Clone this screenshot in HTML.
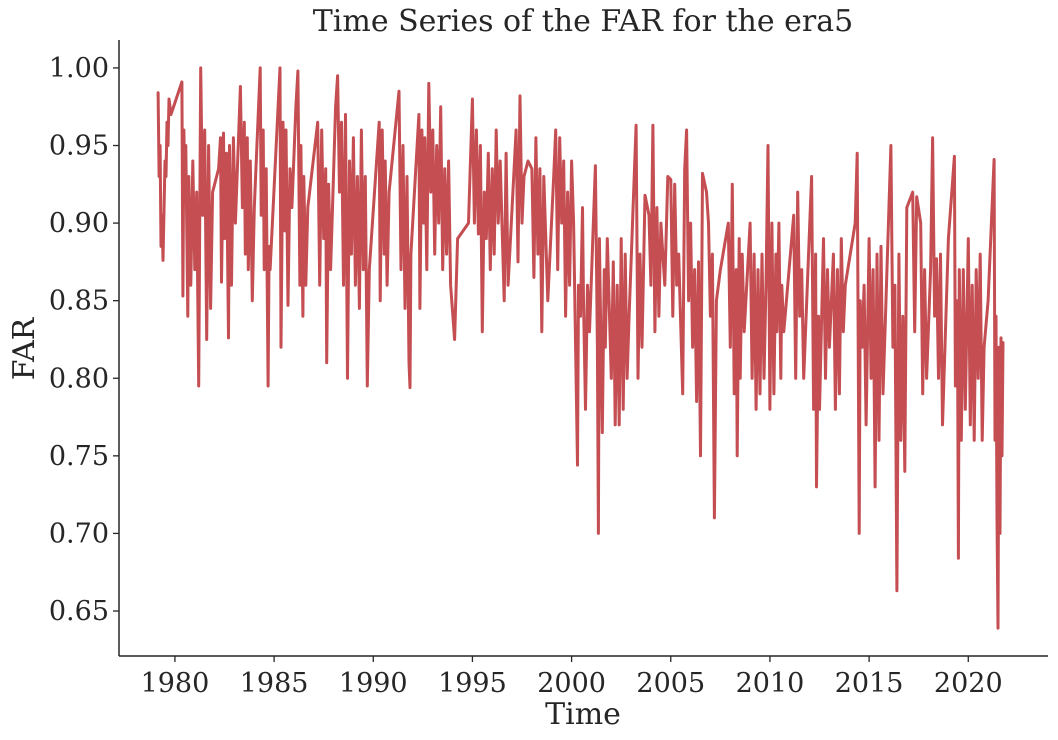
<!DOCTYPE html>
<html><head><meta charset="utf-8"><style>
body{margin:0;background:#fff;}
svg{display:block;font-family:"DejaVu Serif","Liberation Serif",serif;}
</style></head><body>
<svg id="chart" width="1058" height="740" xmlns="http://www.w3.org/2000/svg">
<text x="583" y="31" font-size="30" text-anchor="middle" fill="#262626">Time Series of the FAR for the era5</text>
<g id="plot"></g>
<g id="xaxis"></g>
<g id="yaxis"></g>
<text x="583" y="724" font-size="30" text-anchor="middle" fill="#262626">Time</text>
<text transform="translate(34,349) rotate(-90)" font-size="30" text-anchor="middle" fill="#262626">FAR</text>
</svg>
<script>
const xTicks=[1980,1985,1990,1995,2000,2005,2010,2015,2020];
const yTicks=[0.65,0.70,0.75,0.80,0.85,0.90,0.95,1.00];
const years=[1979.15,1979.2,1979.25,1979.3,1979.35,1979.4,1979.5,1979.55,1979.6,1979.65,1979.7,1979.8,
1980.35,1980.4,1980.45,1980.5,1980.55,1980.65,1980.7,1980.8,1980.9,1981.0,1981.1,1981.2,1981.3,1981.4,1981.5,1981.6,1981.7,1981.8,1981.9,
1982.2,1982.3,1982.35,1982.45,1982.5,1982.6,1982.7,1982.75,1982.85,1982.95,1983.05,1983.3,1983.4,1983.5,1983.55,1983.65,1983.7,1983.8,1983.9,
1984.0,1984.3,1984.35,1984.45,1984.5,1984.6,1984.7,1984.75,1984.8,1985.3,1985.35,1985.45,1985.55,1985.6,1985.7,1985.8,1985.9,
1986.1,1986.2,1986.3,1986.35,1986.45,1986.5,1986.6,1986.7,1987.2,1987.3,1987.4,1987.5,1987.6,1987.65,1987.75,1987.85,1988.1,1988.2,1988.3,1988.4,1988.5,1988.6,1988.7,1988.8,1988.9,
1989.0,1989.1,1989.2,1989.3,1989.4,1989.5,1989.6,1989.7,1989.8,1990.3,1990.35,1990.45,1990.55,1990.6,1990.7,1990.8,1991.3,1991.4,1991.5,1991.6,1991.7,1991.8,1991.85,1991.9,
1992.3,1992.35,1992.45,1992.55,1992.6,1992.7,1992.8,1992.9,1993.0,1993.1,1993.2,1993.3,1993.4,1993.5,1993.6,1993.7,1993.8,1993.9,1994.1,1994.25,
1994.8,1995.0,1995.1,1995.2,1995.3,1995.4,1995.5,1995.6,1995.7,1995.8,1995.9,1996.0,1996.1,1996.2,1996.3,1996.4,1996.6,1996.7,1996.8,1997.2,1997.3,1997.4,1997.5,1997.6,1997.8,1998.0,1998.1,1998.2,1998.3,1998.4,1998.5,1998.6,1998.8,
1999.1,1999.2,1999.3,1999.4,1999.5,1999.6,1999.7,1999.8,1999.9,2000.0,2000.1,2000.3,2000.35,2000.45,2000.55,2000.6,2000.7,2000.8,2000.9,
2001.2,2001.3,2001.35,2001.4,2001.5,2001.55,2001.65,2001.7,2001.8,2002.0,2002.1,2002.2,2002.3,2002.4,2002.5,2002.6,2002.7,2002.8,2002.9,
2003.25,2003.35,2003.45,2003.55,2003.7,2003.9,2004.0,2004.1,2004.2,2004.3,2004.4,2004.5,2004.6,2004.7,2004.85,2005.0,2005.1,2005.2,2005.3,2005.4,
2005.6,2005.7,2005.8,2005.9,2006.0,2006.1,2006.2,2006.3,2006.4,2006.5,2006.6,2006.8,2006.9,2007.0,2007.1,2007.2,2007.3,2007.5,
2007.9,2008.0,2008.1,2008.2,2008.3,2008.35,2008.45,2008.5,2008.6,2008.7,2009.0,2009.1,2009.2,2009.3,2009.4,2009.5,2009.6,2009.7,2009.8,
2009.9,2010.0,2010.1,2010.2,2010.3,2010.35,2010.45,2010.55,2010.6,2010.7,2011.2,2011.3,2011.4,2011.5,2011.6,2011.7,2012.1,2012.2,2012.3,2012.35,2012.45,2012.5,
2012.7,2012.8,2012.9,2013.0,2013.1,2013.2,2013.3,2013.4,2013.5,2013.6,2013.7,2013.8,2014.3,2014.4,2014.5,2014.55,2014.65,2014.75,2014.85,2015.0,2015.1,2015.2,2015.3,2015.4,2015.5,2015.6,2015.7,2015.8,
2016.1,2016.2,2016.3,2016.4,2016.5,2016.6,2016.7,2016.8,2016.9,2017.2,2017.3,2017.4,2017.6,2017.7,2017.8,2017.9,2018.1,2018.2,2018.3,2018.4,2018.5,2018.6,2018.7,
2019.0,2019.3,2019.35,2019.45,2019.5,2019.55,2019.65,2019.75,2019.85,2020.0,2020.1,2020.2,2020.3,2020.4,2020.5,2020.6,2020.7,2020.8,2021.0,2021.3,2021.35,2021.4,2021.45,2021.5,2021.55,2021.6,2021.65,2021.7,2021.75];
const farValues=[.984,.93,.95,.885,.905,.876,.94,.93,.965,.95,.98,.97,
.991,.853,.96,.915,.95,.84,.93,.86,.94,.87,.92,.795,1.0,.905,.96,.825,.95,.845,.92,
.935,.955,.862,.958,.89,.945,.826,.95,.86,.955,.90,.988,.91,.965,.88,.955,.87,.94,.85,
.91,1.0,.905,.96,.87,.935,.795,.885,.87,1.0,.82,.965,.895,.96,.847,.935,.91,
.975,.998,.86,.95,.84,.93,.86,.91,.965,.86,.96,.89,.935,.81,.925,.87,.975,.995,.92,.965,.86,.97,.80,.94,.88,
.955,.86,.93,.845,.96,.87,.93,.795,.87,.965,.85,.96,.88,.94,.86,.92,.985,.87,.95,.845,.93,.81,.794,.88,
.97,.845,.96,.90,.955,.87,.99,.92,.96,.88,.95,.90,.975,.87,.935,.88,.94,.86,.825,.89,
.90,.98,.90,.96,.893,.95,.83,.92,.89,.945,.87,.935,.88,.96,.90,.94,.85,.945,.86,.96,.875,.982,.90,.93,.94,.935,.865,.955,.88,.935,.83,.93,.85,
.93,.96,.87,.955,.90,.94,.84,.92,.86,.94,.90,.744,.86,.84,.91,.85,.78,.86,.83,
.937,.82,.70,.89,.80,.765,.87,.82,.89,.80,.875,.77,.86,.77,.89,.78,.88,.80,.84,
.963,.80,.88,.82,.918,.905,.86,.963,.83,.91,.84,.90,.88,.86,.93,.928,.84,.925,.86,.88,
.79,.935,.96,.85,.90,.82,.87,.785,.875,.75,.932,.92,.90,.84,.88,.71,.85,.87,
.90,.82,.925,.79,.87,.75,.89,.80,.88,.83,.90,.80,.88,.78,.87,.79,.88,.80,.86,
.95,.78,.90,.79,.88,.83,.90,.80,.86,.83,.905,.80,.92,.84,.87,.80,.93,.78,.88,.73,.84,.78,
.89,.80,.87,.82,.85,.88,.78,.87,.79,.89,.83,.86,.90,.945,.70,.85,.82,.86,.77,.89,.80,.87,.73,.88,.76,.885,.79,.83,
.95,.82,.86,.663,.88,.76,.84,.74,.91,.92,.83,.917,.90,.79,.87,.80,.87,.955,.84,.877,.80,.88,.77,
.89,.943,.795,.85,.684,.87,.76,.87,.78,.89,.77,.86,.76,.87,.80,.88,.76,.82,.85,.941,.76,.84,.71,.639,.82,.70,.826,.75,.823];
const L=119,R=1048,T=40,B=656;
const x0=1977.18,x1=2024.02,y0=0.621,y1=1.018;
const sx=v=>L+(v-x0)/(x1-x0)*(R-L);
const sy=v=>B-(v-y0)/(y1-y0)*(B-T);
const NS="http://www.w3.org/2000/svg";
const plot=document.getElementById('plot'),xa=document.getElementById('xaxis'),ya=document.getElementById('yaxis');
function mk(tag,attrs,parent){const e=document.createElementNS(NS,tag);for(const k in attrs)e.setAttribute(k,attrs[k]);parent.appendChild(e);return e;}
let d='';
for(let i=0;i<years.length;i++){d+=(i?'L':'M')+sx(years[i]).toFixed(1)+' '+sy(farValues[i]).toFixed(1);}
const line=mk('path',{d:d,fill:'none',stroke:'#c44e52','stroke-width':3,'stroke-linejoin':'round','stroke-linecap':'round'},plot);


const sp1=mk('line',{x1:L,y1:T,x2:L,y2:B,stroke:'#262626','stroke-width':1.5},ya);


const sp2=mk('line',{x1:L,y1:B,x2:R,y2:B,stroke:'#262626','stroke-width':1.5},xa);


xTicks.forEach(t=>{const x=sx(t);
 const tk=mk('line',{x1:x,y1:B,x2:x,y2:B+6,stroke:'#262626','stroke-width':1.3},xa);
 
 
 const tx=mk('text',{x:x,y:B+36,'font-size':27,'text-anchor':'middle',fill:'#262626'},xa);tx.textContent=t;
 
 
});
yTicks.forEach(t=>{const y=sy(t);
 const tk=mk('line',{x1:L-6,y1:y,x2:L,y2:y,stroke:'#262626','stroke-width':1.3},ya);
 
 
 const tx=mk('text',{x:L-10,y:y+9,'font-size':27,'text-anchor':'end',fill:'#262626'},ya);tx.textContent=t.toFixed(2);
 
 
});
</script>
</body></html>
